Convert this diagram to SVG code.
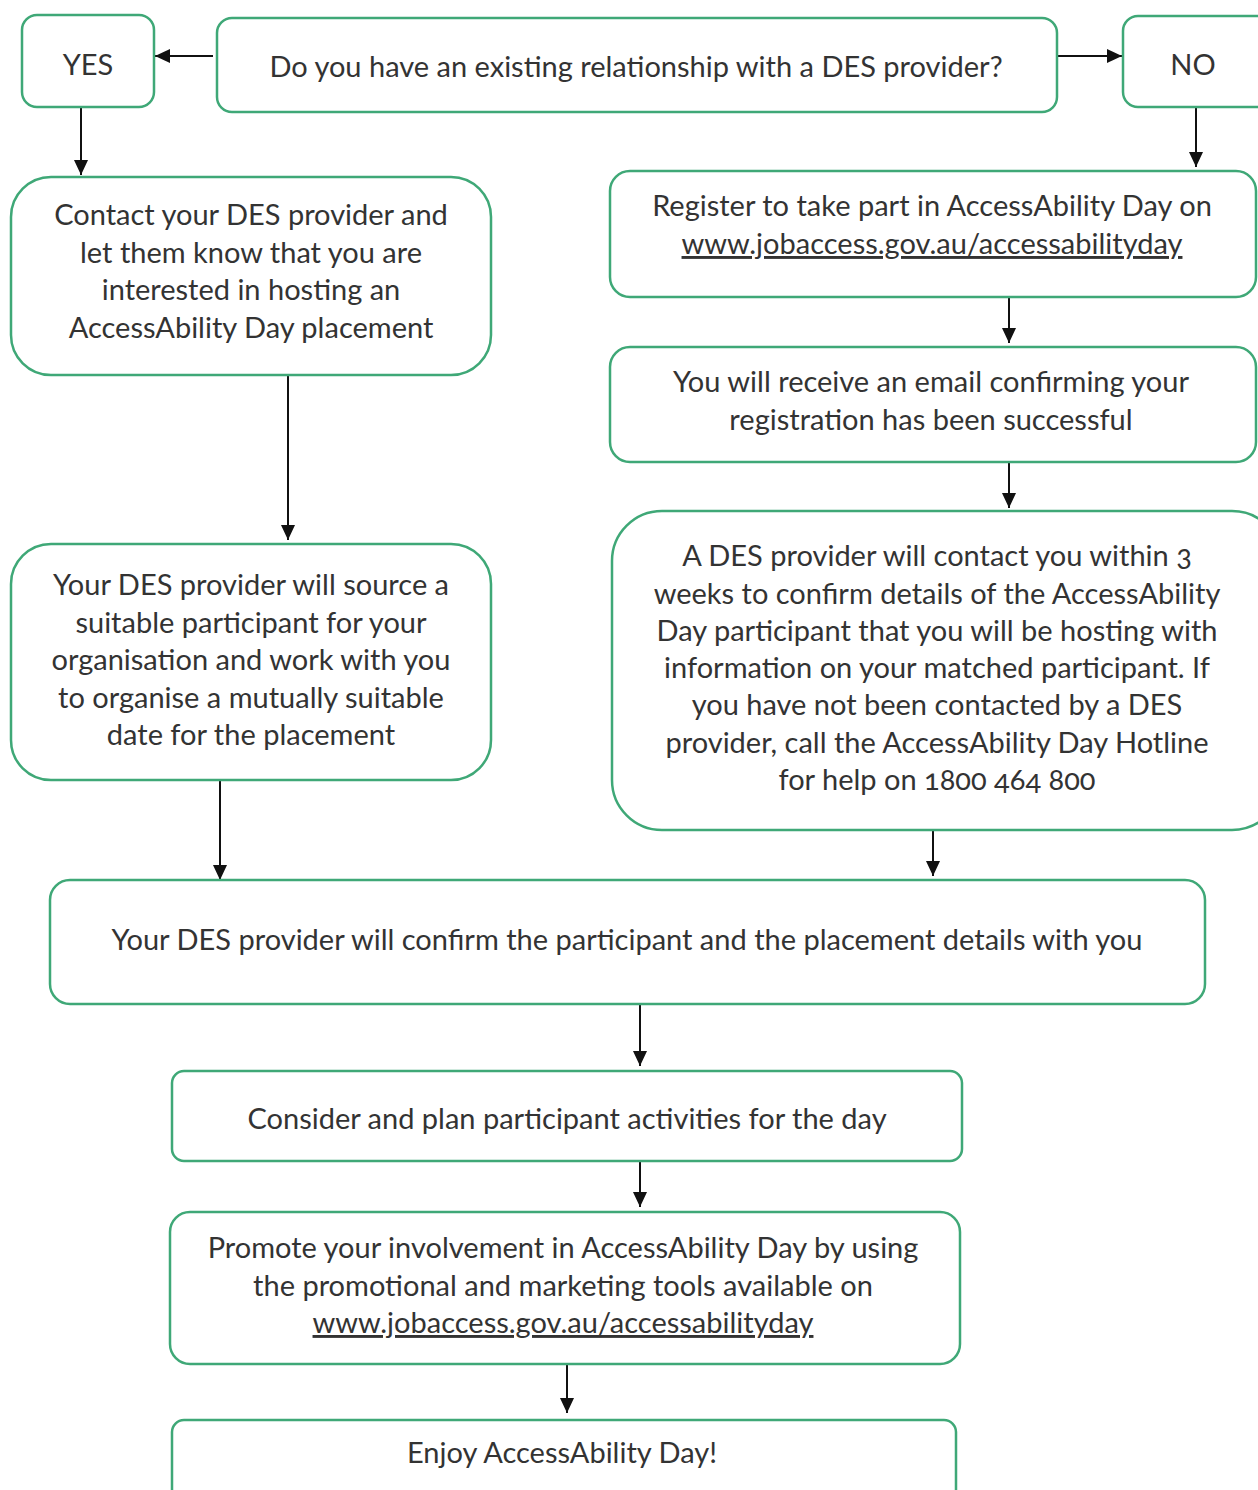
<svg xmlns="http://www.w3.org/2000/svg" width="1258" height="1490" viewBox="0 0 1258 1490">
<style>
.box{fill:#fff;stroke:#3fa877;stroke-width:2.5}
.t{font-family:Lato,"Open Sans","Liberation Sans",sans-serif;font-size:29px;fill:#333;text-anchor:middle;font-variant-numeric:oldstyle-nums}
.u{text-decoration:underline}
.c{stroke:#111;stroke-width:2;fill:none;marker-end:url(#ah)}
</style>
<defs>
<marker id="ah" viewBox="0 0 15 14" refX="15" refY="7" markerWidth="15" markerHeight="14" markerUnits="userSpaceOnUse" orient="auto">
<path d="M0,0 L15,7 L0,14 z" fill="#111"/>
</marker>
</defs>
<rect width="1258" height="1490" fill="#fff"/>
<g id="connectors">
<path class="c" d="M213,56 H155"/>
<path class="c" d="M1057,56 H1122"/>
<path class="c" d="M81,107 V175"/>
<path class="c" d="M1196,107 V167"/>
<path class="c" d="M1009,297 V343"/>
<path class="c" d="M1009,462 V508"/>
<path class="c" d="M288,375 V540"/>
<path class="c" d="M220,780 V880"/>
<path class="c" d="M933,830 V876"/>
<path class="c" d="M640,1004 V1066"/>
<path class="c" d="M640,1161 V1207"/>
<path class="c" d="M567,1364 V1413"/>
</g>
<g id="yes"><rect class="box" x="22" y="15" width="132" height="92" rx="15"/><text class="t" x="88" y="75">YES</text></g>
<g id="question"><rect class="box" x="217" y="18" width="840" height="94" rx="15"/><text class="t" x="636" y="77">Do you have an existing relationship with a DES provider?</text></g>
<g id="no"><rect class="box" x="1123" y="16" width="150" height="91" rx="15"/><text class="t" x="1193" y="75">NO</text></g>
<g id="contact"><rect class="box" x="11" y="177" width="480" height="198" rx="40"/>
<text class="t" x="251" y="225">Contact your DES provider and</text>
<text class="t" x="251" y="263">let them know that you are</text>
<text class="t" x="251" y="300">interested in hosting an</text>
<text class="t" x="251" y="338">AccessAbility Day placement</text></g>
<g id="register"><rect class="box" x="610" y="171" width="646" height="126" rx="20"/>
<text class="t" x="932" y="216">Register to take part in AccessAbility Day on</text>
<text class="t u" x="932" y="254">www.jobaccess.gov.au/accessabilityday</text></g>
<g id="email"><rect class="box" x="610" y="347" width="646" height="115" rx="20"/>
<text class="t" x="931" y="392">You will receive an email confirming your</text>
<text class="t" x="931" y="430">registration has been successful</text></g>
<g id="source"><rect class="box" x="11" y="544" width="480" height="236" rx="40"/>
<text class="t" x="251" y="595">Your DES provider will source a</text>
<text class="t" x="251" y="633">suitable participant for your</text>
<text class="t" x="251" y="670">organisation and work with you</text>
<text class="t" x="251" y="708">to organise a mutually suitable</text>
<text class="t" x="251" y="745">date for the placement</text></g>
<g id="desContact"><rect class="box" x="612" y="511" width="670" height="319" rx="50"/>
<text class="t" x="937" y="566">A DES provider will contact you within 3</text>
<text class="t" x="937" y="604">weeks to confirm details of the AccessAbility</text>
<text class="t" x="937" y="641">Day participant that you will be hosting with</text>
<text class="t" x="937" y="678">information on your matched participant. If</text>
<text class="t" x="937" y="715">you have not been contacted by a DES</text>
<text class="t" x="937" y="753">provider, call the AccessAbility Day Hotline</text>
<text class="t" x="937" y="790">for help on 1800 464 800</text></g>
<g id="confirm"><rect class="box" x="50" y="880" width="1155" height="124" rx="20"/>
<text class="t" x="627" y="950">Your DES provider will confirm the participant and the placement details with you</text></g>
<g id="consider"><rect class="box" x="172" y="1071" width="790" height="90" rx="12"/>
<text class="t" x="567" y="1129">Consider and plan participant activities for the day</text></g>
<g id="promote"><rect class="box" x="170" y="1212" width="790" height="152" rx="20"/>
<text class="t" x="563" y="1258">Promote your involvement in AccessAbility Day by using</text>
<text class="t" x="563" y="1296">the promotional and marketing tools available on</text>
<text class="t u" x="563" y="1333">www.jobaccess.gov.au/accessabilityday</text></g>
<g id="enjoy"><rect class="box" x="172" y="1420" width="784" height="100" rx="12"/>
<text class="t" x="562" y="1463">Enjoy AccessAbility Day!</text></g>
</svg>
